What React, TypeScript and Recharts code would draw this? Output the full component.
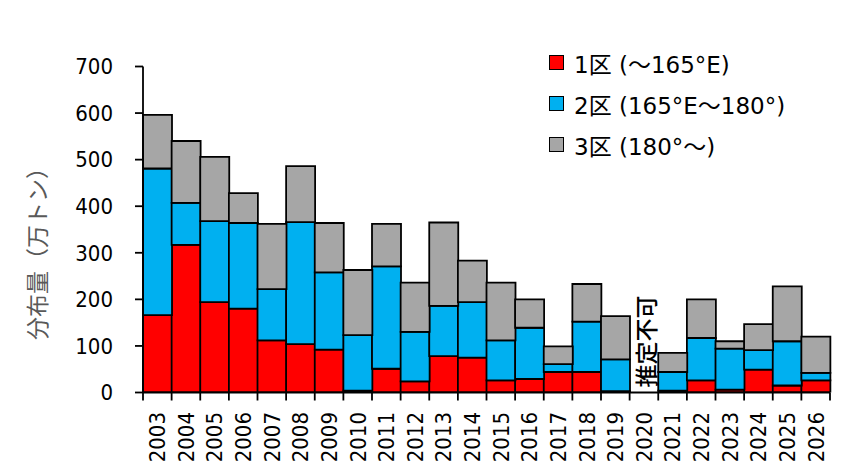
import React from 'react';
import { BarChart, Bar, XAxis, YAxis, Legend, ReferenceLine } from 'recharts';

const years = ['2003','2004','2005','2006','2007','2008','2009','2010','2011','2012','2013','2014','2015','2016','2017','2018','2019','2020','2021','2022','2023','2024','2025','2026'];
const zone1 = [166,317,194,180,112,104,92,4,51,24,78,75,26,29,44,44,3,null,4,26,6,49,15,26];
const zone2 = [315,90,174,184,110,262,166,119,220,106,108,119,86,110,17,108,68,null,40,91,88,42,95,16];
const zone3 = [115,133,138,64,140,120,106,140,91,106,179,89,124,61,38,81,93,null,41,83,16,56,118,78];
const yTicks = [0,100,200,300,400,500,600,700];
const seriesNames = ['1区 (～165°E)', '2区 (165°E～180°)', '3区 (180°～)'];
const seriesColors = ['#FF0000', '#00B0F0', '#A6A6A6'];
const missingYear = '2020';
const missingLabel = '推定不可';
const yLabel = '分布量（万トン）';

const data = years.map((y, i) => ({ year: y, z1: zone1[i], z2: zone2[i], z3: zone3[i] }));

const W = 849, H = 473;
const PLOT_LEFT = 143, PLOT_RIGHT = 830, PLOT_TOP = 66.5, PLOT_BOTTOM = 392.5;
const BAND = (PLOT_RIGHT - PLOT_LEFT) / years.length;
const FONT = '"DejaVu Sans", "Noto Sans CJK JP", sans-serif';
const CJK_FONT = '"Noto Sans CJK JP", sans-serif';
const TICK_FONT = '"DejaVu Sans Condensed", "DejaVu Sans", sans-serif';

const XTick = (props: any) => {
  const { x, index } = props;
  const value = props.payload.value;
  const right = x + BAND / 2;
  const left = x - BAND / 2;
  return (
    <g>
      <line x1={right} x2={right} y1={PLOT_BOTTOM} y2={PLOT_BOTTOM + 8} stroke="#000" strokeWidth={1.8} />
      {index === 0 && <line x1={left} x2={left} y1={PLOT_BOTTOM} y2={PLOT_BOTTOM + 8} stroke="#000" strokeWidth={1.8} />}
      <text x={x} y={412} transform={`rotate(-90, ${x}, 412)`} textAnchor="end" dy="0.36em" fontSize={22} fontFamily={TICK_FONT} fill="#000">{value}</text>
    </g>
  );
};

const renderLegend = () => (
  <div style={{ fontFamily: FONT, fontSize: 23, color: '#000' }}>
    {seriesNames.map((n, i) => (
      <div key={n} style={{ display: 'flex', alignItems: 'center', height: 41, whiteSpace: 'nowrap' }}>
        <span style={{ display: 'inline-block', width: 13, height: 13, border: '1.5px solid #000', background: seriesColors[i], marginRight: 10 }} />
        <span>{n}</span>
      </div>
    ))}
  </div>
);

const MissingLabel = (props: any) => {
  const vb = props.viewBox || {};
  const x = vb.x;
  const y = PLOT_BOTTOM - 5;
  return (
    <text x={x} y={y} transform={`rotate(-90, ${x}, ${y})`} textAnchor="start" dy="0.5em" fontSize={23} fontWeight={500} fontFamily={CJK_FONT} fill="#000">{missingLabel}</text>
  );
};

const YLabel = () => (
  <text x={38} y={248} transform="rotate(-90, 38, 248)" textAnchor="middle" dominantBaseline="central" fontSize={23} fontFamily={FONT} fill="#595959">{yLabel}</text>
);

export default function App() {
  return (
    <div style={{ position: 'absolute', left: 0, top: 0, width: W, height: H, background: '#fff' }}>
      <BarChart width={W} height={H} data={data} barCategoryGap={0} barGap={0}
        margin={{ top: PLOT_TOP, right: W - PLOT_RIGHT, bottom: 0, left: PLOT_LEFT - 60 }}>
        <XAxis dataKey="year" height={H - PLOT_BOTTOM} tickLine={false} tick={<XTick />} interval={0}
          axisLine={{ stroke: '#000', strokeWidth: 1.8 }} />
        <YAxis domain={[0, 700]} ticks={yTicks} width={60} tickSize={8} tickMargin={22}
          axisLine={{ stroke: '#000', strokeWidth: 1.8 }} tickLine={{ stroke: '#000', strokeWidth: 1.8 }}
          tick={{ fontSize: 22, fontFamily: TICK_FONT, fill: '#000' }} allowDataOverflow
          label={{ content: <YLabel /> }} />
        <Bar dataKey="z1" name={seriesNames[0]} stackId="a" fill={seriesColors[0]} stroke="#000" strokeWidth={1.8} isAnimationActive={false} />
        <Bar dataKey="z2" name={seriesNames[1]} stackId="a" fill={seriesColors[1]} stroke="#000" strokeWidth={1.8} isAnimationActive={false} />
        <Bar dataKey="z3" name={seriesNames[2]} stackId="a" fill={seriesColors[2]} stroke="#000" strokeWidth={1.8} isAnimationActive={false} />
        <ReferenceLine x={missingYear} stroke="none" strokeOpacity={0} label={<MissingLabel />} />
        <Legend layout="vertical" align="center" verticalAlign="middle" content={renderLegend}
          wrapperStyle={{ position: 'absolute', left: 549, top: 42, width: 300, height: 125 }} />
      </BarChart>
    </div>
  );
}
